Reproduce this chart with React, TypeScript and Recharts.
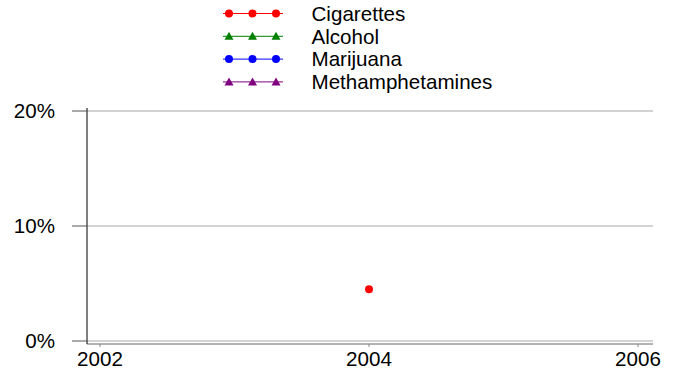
import { LineChart, Line, XAxis, YAxis, CartesianGrid, Legend } from 'recharts';

const years = [2004];
const cigarettes: (number | null)[] = [4.5];
const alcohol: (number | null)[] = [null];
const marijuana: (number | null)[] = [null];
const methamphetamines: (number | null)[] = [null];

const xTicks = [2002, 2004, 2006];
const yTicks = [0, 10, 20];

const FONT = '"Liberation Sans", Arial, sans-serif';
const FONT_SIZE = 20.6;

const series = [
  { key: 'cigarettes', name: 'Cigarettes', color: '#ff0000', marker: 'circle' },
  { key: 'alcohol', name: 'Alcohol', color: '#008000', marker: 'triangle' },
  { key: 'marijuana', name: 'Marijuana', color: '#0000ff', marker: 'circle' },
  { key: 'methamphetamines', name: 'Methamphetamines', color: '#800080', marker: 'triangle' },
];

const data = years.map((year, i) => ({
  year,
  cigarettes: cigarettes[i],
  alcohol: alcohol[i],
  marijuana: marijuana[i],
  methamphetamines: methamphetamines[i],
}));

const Marker = ({ x, y, color, type }: { x: number; y: number; color: string; type: string }) =>
  type === 'circle' ? (
    <circle cx={x} cy={y} r={4} fill={color} />
  ) : (
    <polygon points={`${x},${y - 4.5} ${x - 4.5},${y + 3.5} ${x + 4.5},${y + 3.5}`} fill={color} />
  );

const makeDot = (color: string, type: string) => (props: any) => {
  const { cx, cy, value, index } = props;
  if (value == null || typeof cy !== 'number' || isNaN(cy)) return <g key={`d-${index}`} />;
  return (
    <g key={`d-${index}`}>
      <Marker x={cx} y={cy} color={color} type={type} />
    </g>
  );
};

const renderLegend = () => (
  <svg width={674} height={95} style={{ display: 'block' }}>
    {series.map((s, i) => {
      const y = 13.5 + i * 22.8;
      return (
        <g key={s.key}>
          <line x1={223} x2={283} y1={y} y2={y} stroke={s.color} strokeWidth={1} />
          {[229, 252.5, 276].map((x) => (
            <Marker key={x} x={x} y={y} color={s.color} type={s.marker} />
          ))}
          <text x={311.5} y={y} dy="0.35em" fontSize={FONT_SIZE} fontFamily={FONT} fill="#000">
            {s.name}
          </text>
        </g>
      );
    })}
  </svg>
);

export default function App() {
  return (
    <div style={{ position: 'absolute', left: 0, top: 0, width: 674, height: 373, background: '#fff' }}>
      <LineChart width={674} height={373} data={data} margin={{ top: 108, right: 21, bottom: 0, left: 0 }}>
        <CartesianGrid vertical={false} stroke="#a6a6a6" syncWithTicks />
        <XAxis
          dataKey="year"
          type="number"
          domain={[2002, 2006]}
          ticks={xTicks}
          padding={{ left: 13, right: 15 }}
          height={29}
          tickSize={3}
          tickMargin={4}
          axisLine={{ stroke: '#666' }}
          tickLine={{ stroke: '#888' }}
          tick={{ fontSize: FONT_SIZE, fill: '#000', fontFamily: FONT }}
        />
        <YAxis
          type="number"
          domain={[0, 20]}
          ticks={yTicks}
          width={87}
          padding={{ top: 3, bottom: 3 }}
          tickSize={15}
          tickMargin={17}
          tickFormatter={(v) => `${v}%`}
          axisLine={{ stroke: '#000' }}
          tickLine={{ stroke: '#555' }}
          tick={{ fontSize: FONT_SIZE, fill: '#000', fontFamily: FONT }}
        />
        <Legend
          layout="horizontal"
          verticalAlign="middle"
          align="center"
          content={renderLegend}
          wrapperStyle={{ top: 0, left: 0, width: 674, height: 95 }}
        />
        {series.map((s) => (
          <Line
            key={s.key}
            dataKey={s.key}
            name={s.name}
            stroke={s.color}
            strokeWidth={1}
            dot={makeDot(s.color, s.marker)}
            activeDot={false}
            connectNulls={false}
            isAnimationActive={false}
          />
        ))}
      </LineChart>
    </div>
  );
}
